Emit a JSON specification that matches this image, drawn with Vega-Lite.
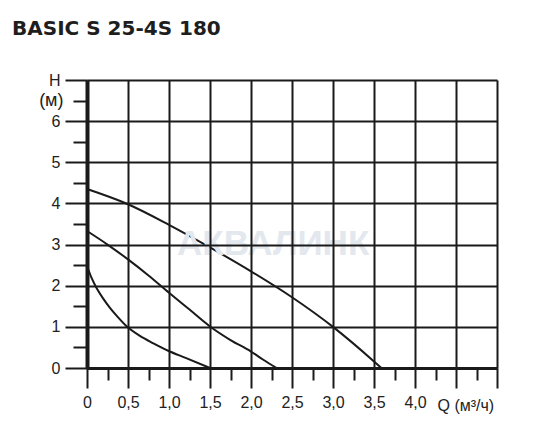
{
  "$schema": "https://vega.github.io/schema/vega-lite/v6.json",
  "width": 410,
  "height": 288,
  "autosize": {"type": "none"},
  "padding": {"left": 87, "top": 80, "right": 49, "bottom": 73},
  "background": "white",
  "title": {
    "text": "BASIC S 25-4S 180",
    "anchor": "start",
    "frame": "group",
    "dx": -75,
    "offset": 33,
    "font": "DejaVu Sans",
    "fontSize": 20,
    "fontWeight": "bold",
    "color": "#1e1e1e"
  },
  "config": {"view": {"stroke": null}},
  "layer": [
    {
      "data": {
        "values": [
          {"curve": "A", "q": 0, "h": 2.48},
          {"curve": "A", "q": 0.06, "h": 2.17},
          {"curve": "A", "q": 0.12, "h": 1.93},
          {"curve": "A", "q": 0.2, "h": 1.68},
          {"curve": "A", "q": 0.28, "h": 1.46},
          {"curve": "A", "q": 0.37, "h": 1.25},
          {"curve": "A", "q": 0.49, "h": 1.0},
          {"curve": "A", "q": 0.645, "h": 0.78},
          {"curve": "A", "q": 0.81, "h": 0.6},
          {"curve": "A", "q": 0.99, "h": 0.42},
          {"curve": "A", "q": 1.21, "h": 0.24},
          {"curve": "A", "q": 1.5, "h": 0},
          {"curve": "B", "q": 0, "h": 3.33},
          {"curve": "B", "q": 0.25, "h": 3.0},
          {"curve": "B", "q": 0.5, "h": 2.64},
          {"curve": "B", "q": 0.75, "h": 2.25},
          {"curve": "B", "q": 1.0, "h": 1.83},
          {"curve": "B", "q": 1.25, "h": 1.42},
          {"curve": "B", "q": 1.5, "h": 1.01},
          {"curve": "B", "q": 1.75, "h": 0.68},
          {"curve": "B", "q": 2.0, "h": 0.4},
          {"curve": "B", "q": 2.15, "h": 0.2},
          {"curve": "B", "q": 2.31, "h": 0},
          {"curve": "C", "q": 0, "h": 4.35},
          {"curve": "C", "q": 0.5, "h": 3.98},
          {"curve": "C", "q": 1.0, "h": 3.48},
          {"curve": "C", "q": 1.5, "h": 2.93},
          {"curve": "C", "q": 2.0, "h": 2.35},
          {"curve": "C", "q": 2.5, "h": 1.72},
          {"curve": "C", "q": 3.0, "h": 1.0},
          {"curve": "C", "q": 3.5, "h": 0.16},
          {"curve": "C", "q": 3.59, "h": 0}
        ]
      },
      "mark": {"type": "line", "color": "#1a1a1a", "strokeWidth": 2, "interpolate": "monotone"},
      "encoding": {
        "x": {
          "field": "q",
          "type": "quantitative",
          "scale": {"domain": [0, 5], "nice": false, "zero": false},
          "axis": {
            "orient": "bottom",
            "zindex": 1,
            "values": [0, 0.5, 1, 1.5, 2, 2.5, 3, 3.5, 4, 4.5, 5],
            "labelExpr": "datum.value > 4 ? '' : (datum.value == 0 ? '0' : replace(format(datum.value, '.1f'), '.', ','))",
            "tickSize": 20,
            "tickWidth": 2,
            "tickColor": "#1a1a1a",
            "grid": true,
            "gridColor": "#1a1a1a",
            "gridWidth": 2,
            "gridOpacity": 1,
            "domain": true,
            "domainWidth": 3,
            "domainColor": "#1a1a1a",
            "labelFont": "Liberation Sans",
            "labelFontSize": 16,
            "labelColor": "#222222",
            "labelPadding": 6,
            "labelFlush": false,
            "labelOverlap": false,
            "labelBound": false,
            "title": "Q (м³/ч)",
            "titleFont": "Liberation Sans",
            "titleFontSize": 16,
            "titleFontWeight": "normal",
            "titleColor": "#222222",
            "titleAlign": "left",
            "titleAnchor": null,
            "titleBaseline": "alphabetic",
            "titleX": 350,
            "titleY": 42
          }
        },
        "y": {
          "field": "h",
          "type": "quantitative",
          "scale": {"domain": [0, 7], "nice": false, "zero": false},
          "axis": {
            "orient": "left",
            "zindex": 1,
            "values": [0, 1, 2, 3, 4, 5, 6, 7],
            "labelExpr": "datum.value == 7 ? 'H' : datum.label",
            "tickSize": 22,
            "tickWidth": 2,
            "tickColor": "#1a1a1a",
            "grid": true,
            "gridColor": "#1a1a1a",
            "gridWidth": 2,
            "gridOpacity": 1,
            "domain": true,
            "domainWidth": 4,
            "domainColor": "#1a1a1a",
            "labelFont": "Liberation Sans",
            "labelFontSize": 16,
            "labelColor": "#222222",
            "labelPadding": 5,
            "labelFlush": false,
            "labelOverlap": false,
            "labelBound": false,
            "title": null
          }
        },
        "detail": {"field": "curve", "type": "nominal"}
      }
    },
    {
      "data": {"values": [{"q": 2.27, "h": 3.02, "label": "АКВАЛИНК"}]},
      "mark": {"type": "text", "font": "Liberation Sans", "fontWeight": "bold", "fontSize": 35, "color": "#e3e8ee", "baseline": "middle", "align": "center"},
      "encoding": {
        "x": {
          "field": "q",
          "type": "quantitative",
          "axis": {
            "orient": "bottom",
            "values": [0.25, 0.75, 1.25, 1.75, 2.25, 2.75, 3.25, 3.75, 4.25, 4.75],
            "labels": false,
            "tickSize": 12,
            "tickWidth": 2,
            "tickColor": "#1a1a1a",
            "grid": false,
            "domain": false,
            "title": null
          }
        },
        "y": {
          "field": "h",
          "type": "quantitative",
          "axis": {
            "orient": "left",
            "values": [0.5, 1.5, 2.5, 3.5, 4.5, 5.5, 6.5],
            "labelExpr": "datum.value == 6.5 ? '(м)' : ''",
            "tickSize": 14,
            "tickWidth": 2,
            "tickColor": "#1a1a1a",
            "grid": false,
            "domain": false,
            "labelFont": "Liberation Sans",
            "labelFontSize": 18,
            "labelColor": "#222222",
            "labelPadding": 10,
            "labelOverlap": false,
            "labelBound": false,
            "title": null
          }
        },
        "text": {"field": "label", "type": "nominal"}
      }
    }
  ],
  "resolve": {"axis": {"x": "independent", "y": "independent"}}
}
